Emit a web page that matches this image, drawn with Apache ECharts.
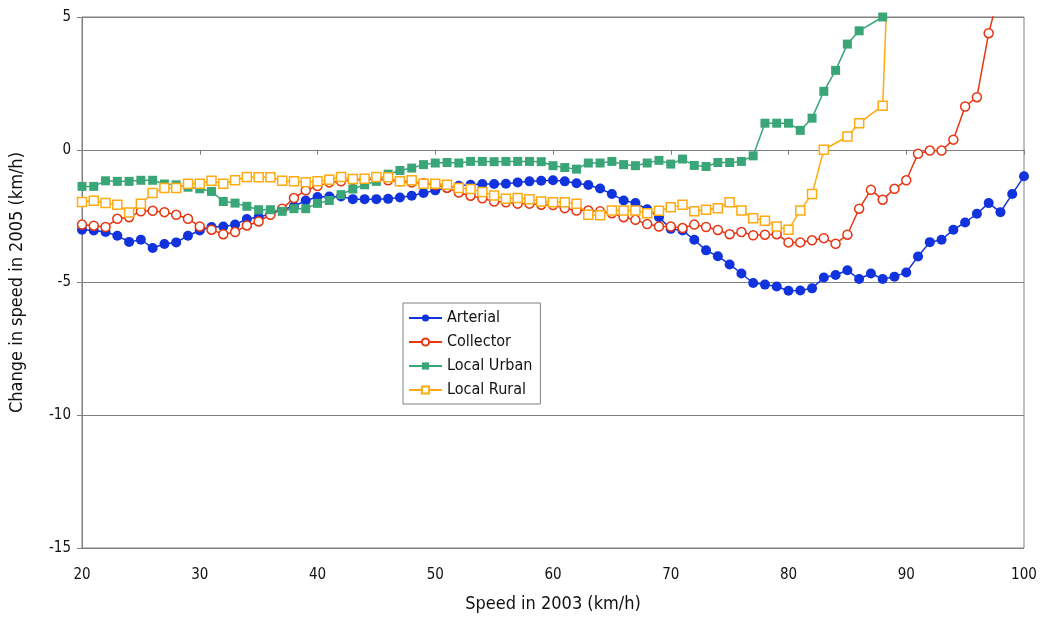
<!DOCTYPE html>
<html>
<head>
<meta charset="utf-8">
<script src="https://cdn.jsdelivr.net/npm/echarts@6/dist/echarts.min.js"></script>
<style>
html,body{margin:0;padding:0;background:#fff;}
#chart{width:1045px;height:618px;}
</style>
</head>
<body>
<div id="chart"></div>
<script>
// Speeds in 2003 (km/h)
var speeds = [20,21,22,23,24,25,26,27,28,29,30,31,32,33,34,35,36,37,38,39,40,41,42,43,44,45,46,47,48,49,50,51,52,53,54,55,56,57,58,59,60,61,62,63,64,65,66,67,68,69,70,71,72,73,74,75,76,77,78,79,80,81,82,83,84,85,86,87,88,89,90,91,92,93,94,95,96,97,98,99,100];

var arterial = [-3.01,-3.04,-3.10,-3.24,-3.47,-3.39,-3.70,-3.55,-3.49,-3.24,-3.04,-2.91,-2.89,-2.82,-2.61,-2.54,-2.41,-2.26,-2.13,-1.91,-1.78,-1.76,-1.76,-1.86,-1.86,-1.86,-1.85,-1.80,-1.73,-1.63,-1.53,-1.44,-1.36,-1.32,-1.29,-1.29,-1.28,-1.23,-1.19,-1.17,-1.15,-1.19,-1.26,-1.33,-1.46,-1.67,-1.91,-2.01,-2.24,-2.54,-2.98,-3.04,-3.39,-3.79,-4.01,-4.32,-4.66,-5.02,-5.08,-5.15,-5.31,-5.30,-5.22,-4.81,-4.72,-4.54,-4.87,-4.66,-4.87,-4.78,-4.62,-4.02,-3.48,-3.39,-3.01,-2.74,-2.41,-2.01,-2.35,-1.67,-1.00];

var collector = [-2.82,-2.86,-2.91,-2.60,-2.54,-2.32,-2.30,-2.35,-2.45,-2.60,-2.89,-3.01,-3.18,-3.10,-2.85,-2.70,-2.45,-2.22,-1.82,-1.53,-1.37,-1.23,-1.19,-1.13,-1.13,-1.10,-1.15,-1.19,-1.23,-1.26,-1.33,-1.43,-1.61,-1.73,-1.83,-1.95,-1.98,-2.03,-2.03,-2.07,-2.08,-2.20,-2.29,-2.29,-2.32,-2.39,-2.54,-2.64,-2.80,-2.89,-2.89,-2.95,-2.82,-2.91,-3.02,-3.18,-3.10,-3.22,-3.20,-3.18,-3.49,-3.49,-3.41,-3.33,-3.54,-3.20,-2.22,-1.51,-1.88,-1.47,-1.15,-0.15,-0.03,-0.03,0.38,1.63,1.98,4.39,6.10,null,null];

var localUrban = [-1.38,-1.38,-1.17,-1.19,-1.19,-1.15,-1.15,-1.29,-1.32,-1.41,-1.47,-1.57,-1.95,-2.01,-2.13,-2.26,-2.26,-2.32,-2.22,-2.22,-2.02,-1.91,-1.69,-1.48,-1.32,-1.19,-0.92,-0.78,-0.69,-0.56,-0.50,-0.48,-0.50,-0.44,-0.44,-0.45,-0.44,-0.44,-0.44,-0.45,-0.60,-0.67,-0.73,-0.50,-0.50,-0.44,-0.56,-0.60,-0.50,-0.40,-0.54,-0.35,-0.59,-0.63,-0.48,-0.48,-0.44,-0.23,1.00,1.00,1.00,0.73,1.19,2.20,2.99,3.98,4.48,null,5.00,null,null,null,null,null,null,null,null,null,null,null,null];

var localRural = [-1.97,-1.92,-2.01,-2.07,-2.36,-2.03,-1.63,-1.44,-1.44,-1.28,-1.28,-1.17,-1.28,-1.15,-1.03,-1.04,-1.04,-1.17,-1.19,-1.22,-1.19,-1.13,-1.03,-1.10,-1.09,-1.03,-1.04,-1.19,-1.15,-1.28,-1.28,-1.32,-1.44,-1.48,-1.59,-1.72,-1.85,-1.82,-1.86,-1.95,-1.98,-1.98,-2.03,-2.45,-2.47,-2.29,-2.29,-2.29,-2.39,-2.30,-2.17,-2.07,-2.32,-2.26,-2.20,-1.98,-2.29,-2.58,-2.67,-2.89,-3.01,-2.29,-1.67,0.00,null,0.50,1.00,null,1.66,13.0,null,null,null,null,null,null,null,null,null,null,null];

var seriesNames = ['Arterial','Collector','Local Urban','Local Rural'];
var xTicks = [20,30,40,50,60,70,80,90,100];
var yTicks = [-15,-10,-5,0,5];

function pairs(vals){
  var out = [];
  for (var i = 0; i < speeds.length; i++) {
    if (vals[i] !== null && vals[i] !== undefined) out.push([speeds[i], vals[i]]);
  }
  return out;
}

var FONT = "'Liberation Sans Narrow','DejaVu Sans Condensed','Roboto Condensed',sans-serif";
var chart = echarts.init(document.getElementById('chart'), null, {renderer:'canvas'});
var option = {
  animation: false,
  backgroundColor: '#ffffff',
  grid: {left: 80, right: 21, top: 17, bottom: 70, show: true, borderColor: '#808080', borderWidth: 1, backgroundColor: 'transparent'},
  legend: {
    data: seriesNames,
    orient: 'vertical',
    left: 403, top: 303,
    backgroundColor: '#ffffff',
    borderColor: '#808080', borderWidth: 1,
    padding: [7, 8, 6, 5],
    itemWidth: 33, itemHeight: 9, itemGap: 8,
    textStyle: {fontFamily: FONT, fontSize: 16, color: '#111'}
  },
  xAxis: {
    type: 'value', min: 20, max: 100, interval: 10,
    name: 'Speed in 2003 (km/h)', nameLocation: 'middle', nameGap: 47,
    nameTextStyle: {fontFamily: FONT, fontSize: 18, color: '#111'},
    axisLine: {show: true, lineStyle: {color: '#808080'}},
    axisTick: {show: true, length: 5, lineStyle: {color: '#808080'}},
    axisLabel: {fontFamily: FONT, fontSize: 15, color: '#111', margin: 20},
    splitLine: {show: false}
  },
  yAxis: {
    type: 'value', min: -15, max: 5, interval: 5,
    name: 'Change in speed in 2005 (km/h)', nameLocation: 'middle', nameGap: 56, nameRotate: 90,
    nameTextStyle: {fontFamily: FONT, fontSize: 18, color: '#111'},
    axisLine: {show: true, lineStyle: {color: '#808080'}},
    axisTick: {show: true, length: 5, lineStyle: {color: '#808080'}},
    axisLabel: {fontFamily: FONT, fontSize: 15, color: '#111', margin: 11},
    splitLine: {show: true, lineStyle: {color: '#808080', width: 1}}
  },
  series: [
    {name: 'Arterial', type: 'line', data: pairs(arterial), clip: true,
     symbol: 'circle', symbolSize: 10, color: '#1133DD',
     lineStyle: {width: 1.5, color: '#1133DD'}, itemStyle: {color: '#1133DD'}},
    {name: 'Collector', type: 'line', data: pairs(collector), clip: true,
     symbol: 'circle', symbolSize: 9, color: '#E83512',
     lineStyle: {width: 1.5, color: '#E83512'}, itemStyle: {color: '#ffffff', borderColor: '#E83512', borderWidth: 1.5}},
    {name: 'Local Urban', type: 'line', data: pairs(localUrban), clip: true,
     symbol: 'rect', symbolSize: 9, color: '#3AA677',
     lineStyle: {width: 1.5, color: '#3AA677'}, itemStyle: {color: '#3AA677'}},
    {name: 'Local Rural', type: 'line', data: pairs(localRural), clip: true,
     symbol: 'rect', symbolSize: 9, color: '#FFAA11',
     lineStyle: {width: 1.5, color: '#FFAA11'}, itemStyle: {color: '#ffffff', borderColor: '#FFAA11', borderWidth: 1.5}}
  ]
};
chart.setOption(option);
</script>
</body>
</html>
